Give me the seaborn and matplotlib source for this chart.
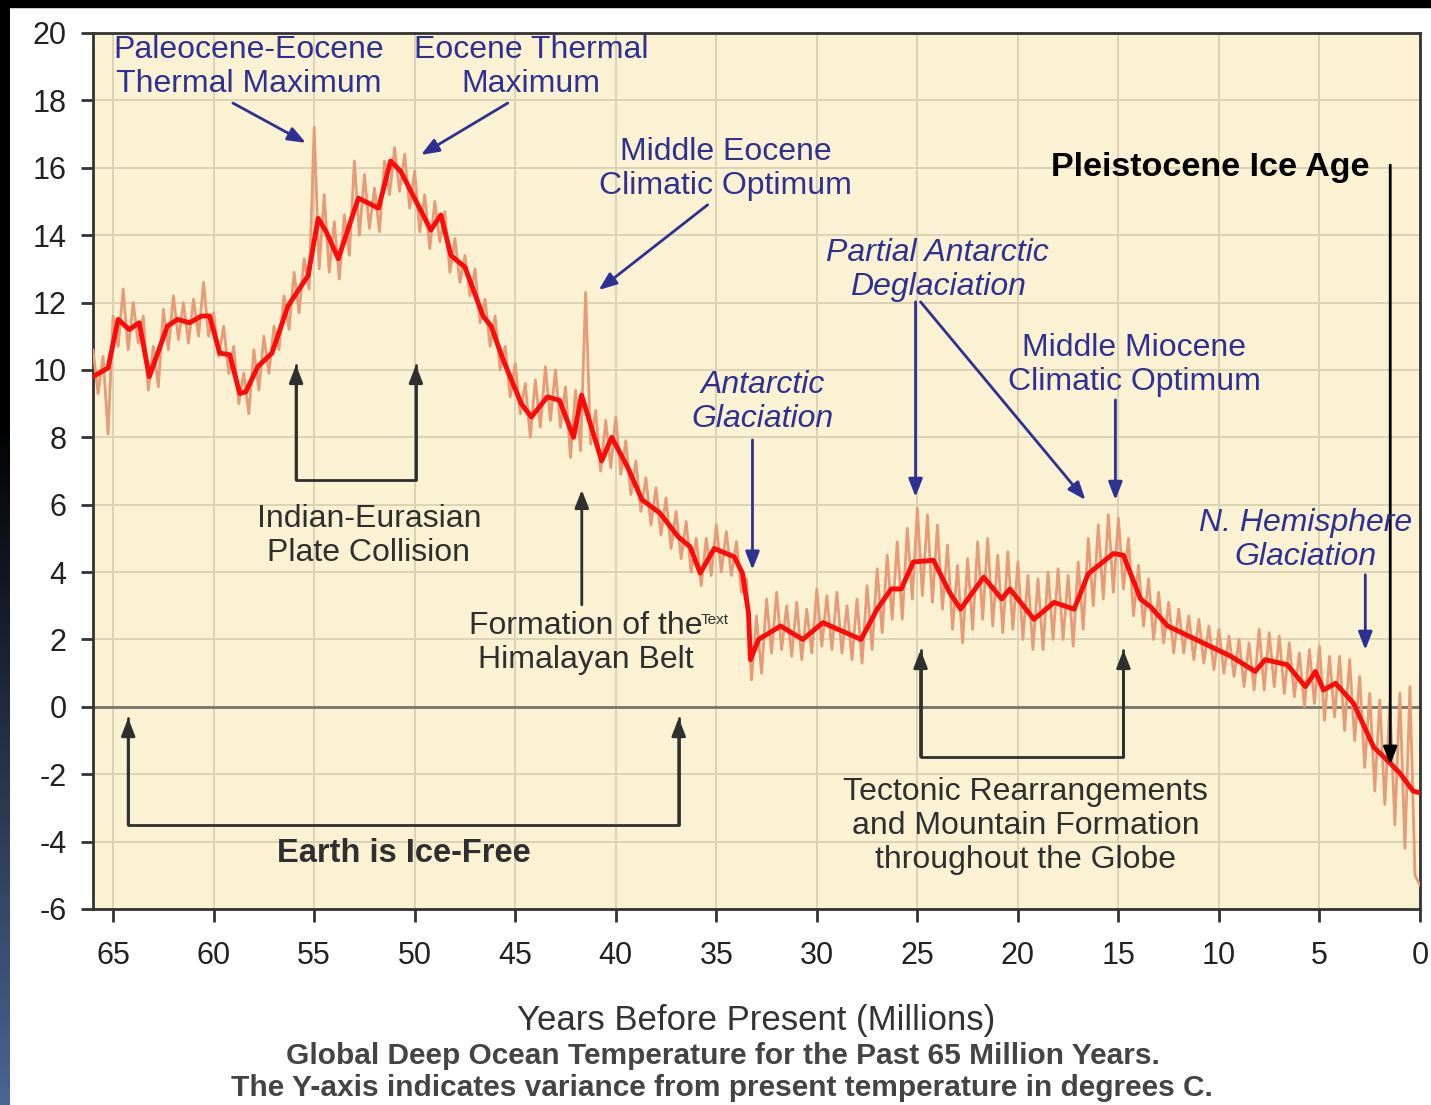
import numpy as np
import pandas as pd
import matplotlib
matplotlib.use("Agg")
import matplotlib.pyplot as plt
from matplotlib.patches import Rectangle
import seaborn as sns

# -------------------------------
# Data
# -------------------------------
# smoothed deep ocean temperature (red curve)
smooth_age = [66.0, 65.25, 64.75, 64.2, 63.7, 63.2, 62.3, 61.8, 61.2, 60.6, 60.2, 59.7,
              59.2, 58.7, 58.4, 57.8, 57.1, 56.3, 55.3, 54.8, 54.4, 53.8, 52.8, 51.8,
              51.2, 50.7, 49.2, 48.7, 48.2, 47.5, 46.6, 46.2, 45.6, 44.7, 44.2, 43.4,
              42.8, 42.1, 41.7, 40.7, 40.2, 39.4, 38.7, 37.8, 36.9, 36.3, 35.8, 35.1,
              34.1, 33.7, 33.4, 33.3, 32.9, 31.8, 30.7, 29.7, 27.8, 27.0, 26.3, 25.8,
              25.2, 24.2, 23.4, 22.85, 21.7, 20.8, 20.4, 19.2, 18.2, 17.2, 16.5, 15.25,
              14.75, 13.9, 13.4, 12.55, 10.8, 9.4, 8.2, 7.7, 6.6, 5.7, 5.2, 4.8,
              4.2, 3.3, 2.3, 1.6, 1.0, 0.34, 0.0]
smooth_temp = [9.8, 10.06, 11.5, 11.2, 11.4, 9.8, 11.3, 11.5, 11.4, 11.6, 11.6, 10.5,
               10.45, 9.3, 9.35, 10.1, 10.5, 11.9, 12.8, 14.5, 14.1, 13.3, 15.1, 14.8,
               16.2, 15.9, 14.15, 14.6, 13.4, 13.05, 11.6, 11.3, 10.3, 9.0, 8.6, 9.2,
               9.1, 8.0, 9.25, 7.3, 8.0, 7.1, 6.15, 5.75, 5.05, 4.75, 3.97, 4.7,
               4.45, 3.97, 2.8, 1.4, 2.0, 2.4, 2.0, 2.5, 2.0, 2.9, 3.5, 3.5,
               4.3, 4.35, 3.4, 2.9, 3.85, 3.2, 3.5, 2.6, 3.1, 2.9, 3.95, 4.55,
               4.5, 3.2, 2.97, 2.4, 1.9, 1.5, 1.05, 1.4, 1.25, 0.6, 1.05, 0.5,
               0.7, 0.1, -1.2, -1.6, -1.97, -2.5, -2.55]

# raw (unsmoothed) record, salmon trace
raw_age = [66.0, 65.75, 65.5, 65.25, 65.0, 64.75, 64.5, 64.25, 64.0, 63.75, 63.5, 63.25,
           63.0, 62.75, 62.5, 62.25, 62.0, 61.75, 61.5, 61.25, 61.0, 60.75, 60.5, 60.25,
           60.0, 59.75, 59.5, 59.25, 59.0, 58.75, 58.5, 58.25, 58.0, 57.75, 57.5, 57.25,
           57.0, 56.75, 56.5, 56.25, 56.0, 55.75, 55.5, 55.25, 55.0, 54.75, 54.5, 54.25,
           54.0, 53.75, 53.5, 53.25, 53.0, 52.75, 52.5, 52.25, 52.0, 51.75, 51.5, 51.25,
           51.0, 50.75, 50.5, 50.25, 50.0, 49.75, 49.5, 49.25, 49.0, 48.75, 48.5, 48.25,
           48.0, 47.75, 47.5, 47.25, 47.0, 46.75, 46.5, 46.25, 46.0, 45.75, 45.5, 45.25,
           45.0, 44.75, 44.5, 44.25, 44.0, 43.75, 43.5, 43.25, 43.0, 42.75, 42.5, 42.25,
           42.0, 41.75, 41.5, 41.25, 41.0, 40.75, 40.5, 40.25, 40.0, 39.75, 39.5, 39.25,
           39.0, 38.75, 38.5, 38.25, 38.0, 37.75, 37.5, 37.25, 37.0, 36.75, 36.5, 36.25,
           36.0, 35.75, 35.5, 35.25, 35.0, 34.75, 34.5, 34.25, 34.0, 33.75, 33.5, 33.25,
           33.0, 32.75, 32.5, 32.25, 32.0, 31.75, 31.5, 31.25, 31.0, 30.75, 30.5, 30.25,
           30.0, 29.75, 29.5, 29.25, 29.0, 28.75, 28.5, 28.25, 28.0, 27.75, 27.5, 27.25,
           27.0, 26.75, 26.5, 26.25, 26.0, 25.75, 25.5, 25.25, 25.0, 24.75, 24.5, 24.25,
           24.0, 23.75, 23.5, 23.25, 23.0, 22.75, 22.5, 22.25, 22.0, 21.75, 21.5, 21.25,
           21.0, 20.75, 20.5, 20.25, 20.0, 19.75, 19.5, 19.25, 19.0, 18.75, 18.5, 18.25,
           18.0, 17.75, 17.5, 17.25, 17.0, 16.75, 16.5, 16.25, 16.0, 15.75, 15.5, 15.25,
           15.0, 14.75, 14.5, 14.25, 14.0, 13.75, 13.5, 13.25, 13.0, 12.75, 12.5, 12.25,
           12.0, 11.75, 11.5, 11.25, 11.0, 10.75, 10.5, 10.25, 10.0, 9.75, 9.5, 9.25,
           9.0, 8.75, 8.5, 8.25, 8.0, 7.75, 7.5, 7.25, 7.0, 6.75, 6.5, 6.25,
           6.0, 5.75, 5.5, 5.25, 5.0, 4.75, 4.5, 4.25, 4.0, 3.75, 3.5, 3.25,
           3.0, 2.75, 2.5, 2.25, 2.0, 1.75, 1.5, 1.25, 1.0, 0.75, 0.5, 0.25,
           0.0]
raw_temp = [10.6, 9.3, 10.4, 8.1, 11.6, 10.7, 12.4, 10.6, 12.0, 10.8, 11.6, 9.4,
            10.7, 9.5, 11.8, 10.6, 12.2, 10.9, 12.0, 10.8, 12.1, 11.0, 12.6, 11.0,
            11.7, 10.4, 11.3, 9.9, 10.7, 9.0, 9.9, 8.7, 10.6, 9.4, 11.0, 9.9,
            11.3, 10.6, 12.2, 11.2, 12.9, 11.7, 13.3, 12.4, 17.2, 13.0, 15.2, 12.9,
            14.4, 12.7, 14.6, 13.4, 16.2, 14.0, 15.8, 14.2, 15.4, 14.1, 16.2, 15.2,
            16.6, 15.3, 16.4, 14.8, 15.9, 14.1, 15.2, 13.6, 15.0, 13.8, 14.7, 12.9,
            13.9, 12.6, 13.4, 12.2, 13.0, 11.4, 12.1, 10.7, 11.6, 10.0, 10.7, 9.2,
            10.2, 8.7, 9.6, 8.0, 9.7, 8.3, 10.1, 8.5, 10.0, 8.3, 9.5, 7.4,
            9.4, 7.6, 12.3, 7.8, 8.8, 7.0, 8.5, 7.1, 8.6, 6.9, 7.9, 6.3,
            7.3, 5.8, 6.8, 5.4, 6.5, 5.1, 6.2, 4.7, 5.8, 4.4, 5.5, 4.0,
            5.0, 3.6, 5.0, 3.9, 5.4, 4.0, 5.2, 3.9, 4.9, 3.4, 3.8, 0.8,
            2.7, 1.0, 3.2, 1.6, 3.4, 1.7, 3.0, 1.5, 3.1, 1.4, 2.9, 1.6,
            3.5, 1.8, 3.3, 1.7, 3.4, 1.6, 3.0, 1.4, 3.2, 1.3, 3.6, 1.7,
            4.1, 2.2, 4.5, 2.6, 4.9, 2.6, 5.3, 3.2, 5.9, 3.3, 5.7, 3.1,
            5.4, 2.9, 4.8, 2.3, 4.2, 1.9, 4.4, 2.3, 4.9, 2.6, 5.0, 2.4,
            4.5, 2.2, 4.6, 2.3, 4.3, 2.0, 3.9, 1.7, 3.8, 1.7, 4.0, 2.0,
            4.1, 2.0, 3.9, 1.8, 4.3, 2.3, 5.0, 3.0, 5.4, 3.2, 5.7, 3.4,
            5.6, 3.5, 5.0, 2.7, 4.2, 2.4, 3.8, 2.0, 3.4, 1.9, 3.1, 1.6,
            2.9, 1.6, 2.7, 1.4, 2.6, 1.3, 2.4, 1.1, 2.3, 1.0, 2.1, 0.9,
            2.0, 0.6, 1.9, 0.5, 2.3, 0.5, 2.2, 0.6, 2.1, 0.4, 1.9, 0.3,
            1.6, 0.0, 1.7, 0.1, 1.8, -0.4, 1.5, -0.3, 1.5, -0.7, 1.4, -1.0,
            0.9, -1.8, 0.4, -2.5, 0.2, -2.9, 0.1, -3.5, 0.4, -4.2, 0.6, -5.0,
            -5.3]

x_ticks = [65, 60, 55, 50, 45, 40, 35, 30, 25, 20, 15, 10, 5, 0]
y_ticks = [-6, -4, -2, 0, 2, 4, 6, 8, 10, 12, 14, 16, 18, 20]

BLUE = "#2E3192"
DARK = "#2f2f2f"

# -------------------------------
# Styling
# -------------------------------
sns.set_theme(style="ticks")
plt.rcParams['font.family'] = ['Liberation Sans', 'DejaVu Sans']
plt.rcParams['axes.unicode_minus'] = False

fig = plt.figure(figsize=(14.31, 11.05), dpi=100)
fig.patch.set_facecolor("white")

# dark slide frame: black band on top, gradient strip on the left
fig.patches.append(Rectangle((0, 1 - 7 / 1105), 1, 7 / 1105, transform=fig.transFigure,
                             color="black", zorder=0))
strip = fig.add_axes([0, 0, 10 / 1431, 1])
grad = np.zeros((200, 1, 3))
mix = np.clip(np.linspace(-0.6, 1.0, 200), 0, 1)
grad[:, 0, 0] = mix * 75 / 255
grad[:, 0, 1] = mix * 100 / 255
grad[:, 0, 2] = mix * 145 / 255
strip.imshow(grad, aspect="auto")
strip.axis("off")

ax = fig.add_axes([93 / 1431, 1 - 909 / 1105, 1327 / 1431, 876 / 1105])
ax.set_facecolor("#FBF2D4")

raw = pd.DataFrame({"age": raw_age, "temp": raw_temp})
smooth = pd.DataFrame({"age": smooth_age, "temp": smooth_temp})

sns.lineplot(data=raw, x="age", y="temp", ax=ax, color="#E69C77", lw=2.0,
             sort=False, zorder=3)
sns.lineplot(data=smooth, x="age", y="temp", ax=ax, color="#FF0A0A", lw=3.5,
             sort=False, zorder=4)

ax.set_xlim(66, 0)
ax.set_ylim(-6, 20)
ax.set_xticks(x_ticks)
ax.set_yticks(y_ticks)
ax.grid(True, color="#DCD2B6", lw=1.4, zorder=0)
ax.axhline(0, color="#77746a", lw=2.0, zorder=1)
for s in ax.spines.values():
    s.set_color("#333333")
    s.set_linewidth(2.0)
ax.tick_params(axis="x", direction="out", length=9, width=2, pad=14,
               labelsize=22, colors="#333333", labelcolor="#222222")
ax.tick_params(axis="y", direction="out", length=9, width=2, pad=10,
               labelsize=22, colors="#333333", labelcolor="#222222")
ax.set_xlabel("Years Before Present (Millions)", fontsize=25, color="#333333",
              labelpad=24)
ax.set_ylabel("")

# -------------------------------
# Annotations
# -------------------------------
def arrow(tail, head, color):
    ax.annotate("", xy=head, xytext=tail,
                arrowprops=dict(arrowstyle="-|>,head_length=0.9,head_width=0.35",
                                color=color, lw=2.0, shrinkA=0, shrinkB=0),
                zorder=6)

def bracket(x1, x2, y_low, y_top):
    ax.plot([x1, x1, x2, x2], [y_top, y_low, y_low, y_top], color=DARK, lw=2.0,
            zorder=5)
    arrow((x1, y_low), (x1, y_top), DARK)
    arrow((x2, y_low), (x2, y_top), DARK)

txt = dict(ha="center", va="center", fontsize=23, linespacing=1.17, zorder=7)

ax.text(58.24, 19.0, "Paleocene-Eocene\nThermal Maximum", color=BLUE, **txt)
arrow((59.04, 17.92), (55.41, 16.74), BLUE)
ax.text(44.22, 19.0, "Eocene Thermal\nMaximum", color=BLUE, **txt)
arrow((45.37, 17.92), (49.69, 16.38), BLUE)
ax.text(34.53, 15.96, "Middle Eocene\nClimatic Optimum", color=BLUE, **txt)
arrow((35.43, 14.9), (40.85, 12.37), BLUE)

ax.text(10.43, 16.02, "Pleistocene Ice Age", color="black", fontweight="bold",
        ha="center", va="center", fontsize=24.5, zorder=7)
arrow((1.48, 16.08), (1.48, -1.72), "black")

ax.text(24.0, 12.97, "Partial Antarctic\nDeglaciation", color=BLUE, style="italic", **txt)
arrow((25.09, 12.02), (25.09, 6.23), BLUE)
arrow((24.84, 12.02), (16.64, 6.14), BLUE)

ax.text(14.2, 10.15, "Middle Miocene\nClimatic Optimum", color=BLUE, **txt)
arrow((15.15, 9.11), (15.15, 6.14), BLUE)

ax.text(32.7, 9.05, "Antarctic\nGlaciation", color=BLUE, style="italic", **txt)
arrow((33.2, 7.92), (33.2, 4.07), BLUE)

ax.text(5.71, 4.96, "N. Hemisphere\nGlaciation", color=BLUE, style="italic", **txt)
arrow((2.72, 3.92), (2.72, 1.69), BLUE)

ax.text(52.28, 5.07, "Indian-Eurasian\nPlate Collision", color=DARK, **txt)
bracket(55.9, 49.94, 6.74, 10.15)

ax.text(41.49, 1.9, "Formation of the\nHimalayan Belt", color=DARK, **txt)
ax.text(35.1, 2.58, "Text", color=DARK, fontsize=11, ha="center", va="center")
arrow((41.69, 3.03), (41.69, 6.44), DARK)

ax.text(50.54, -4.36, "Earth is Ice-Free", color=DARK, fontweight="bold",
        ha="center", va="center", fontsize=23.5, zorder=7)
bracket(64.25, 36.87, -3.5, -0.33)

ax.text(19.62, -3.53, "Tectonic Rearrangements\nand Mountain Formation\nthroughout the Globe",
        color=DARK, **txt)
bracket(24.84, 14.75, -1.48, 1.69)

fig.text(723 / 1431, 1 - 1056 / 1105,
         "Global Deep Ocean Temperature for the Past 65 Million Years.",
         ha="center", va="center", fontsize=21.5, fontweight="bold", color="#444444")
fig.text(722 / 1431, 1 - 1088 / 1105,
         "The Y-axis indicates variance from present temperature in degrees C.",
         ha="center", va="center", fontsize=21.5, fontweight="bold", color="#444444")

fig.savefig("out.png", dpi=100)
